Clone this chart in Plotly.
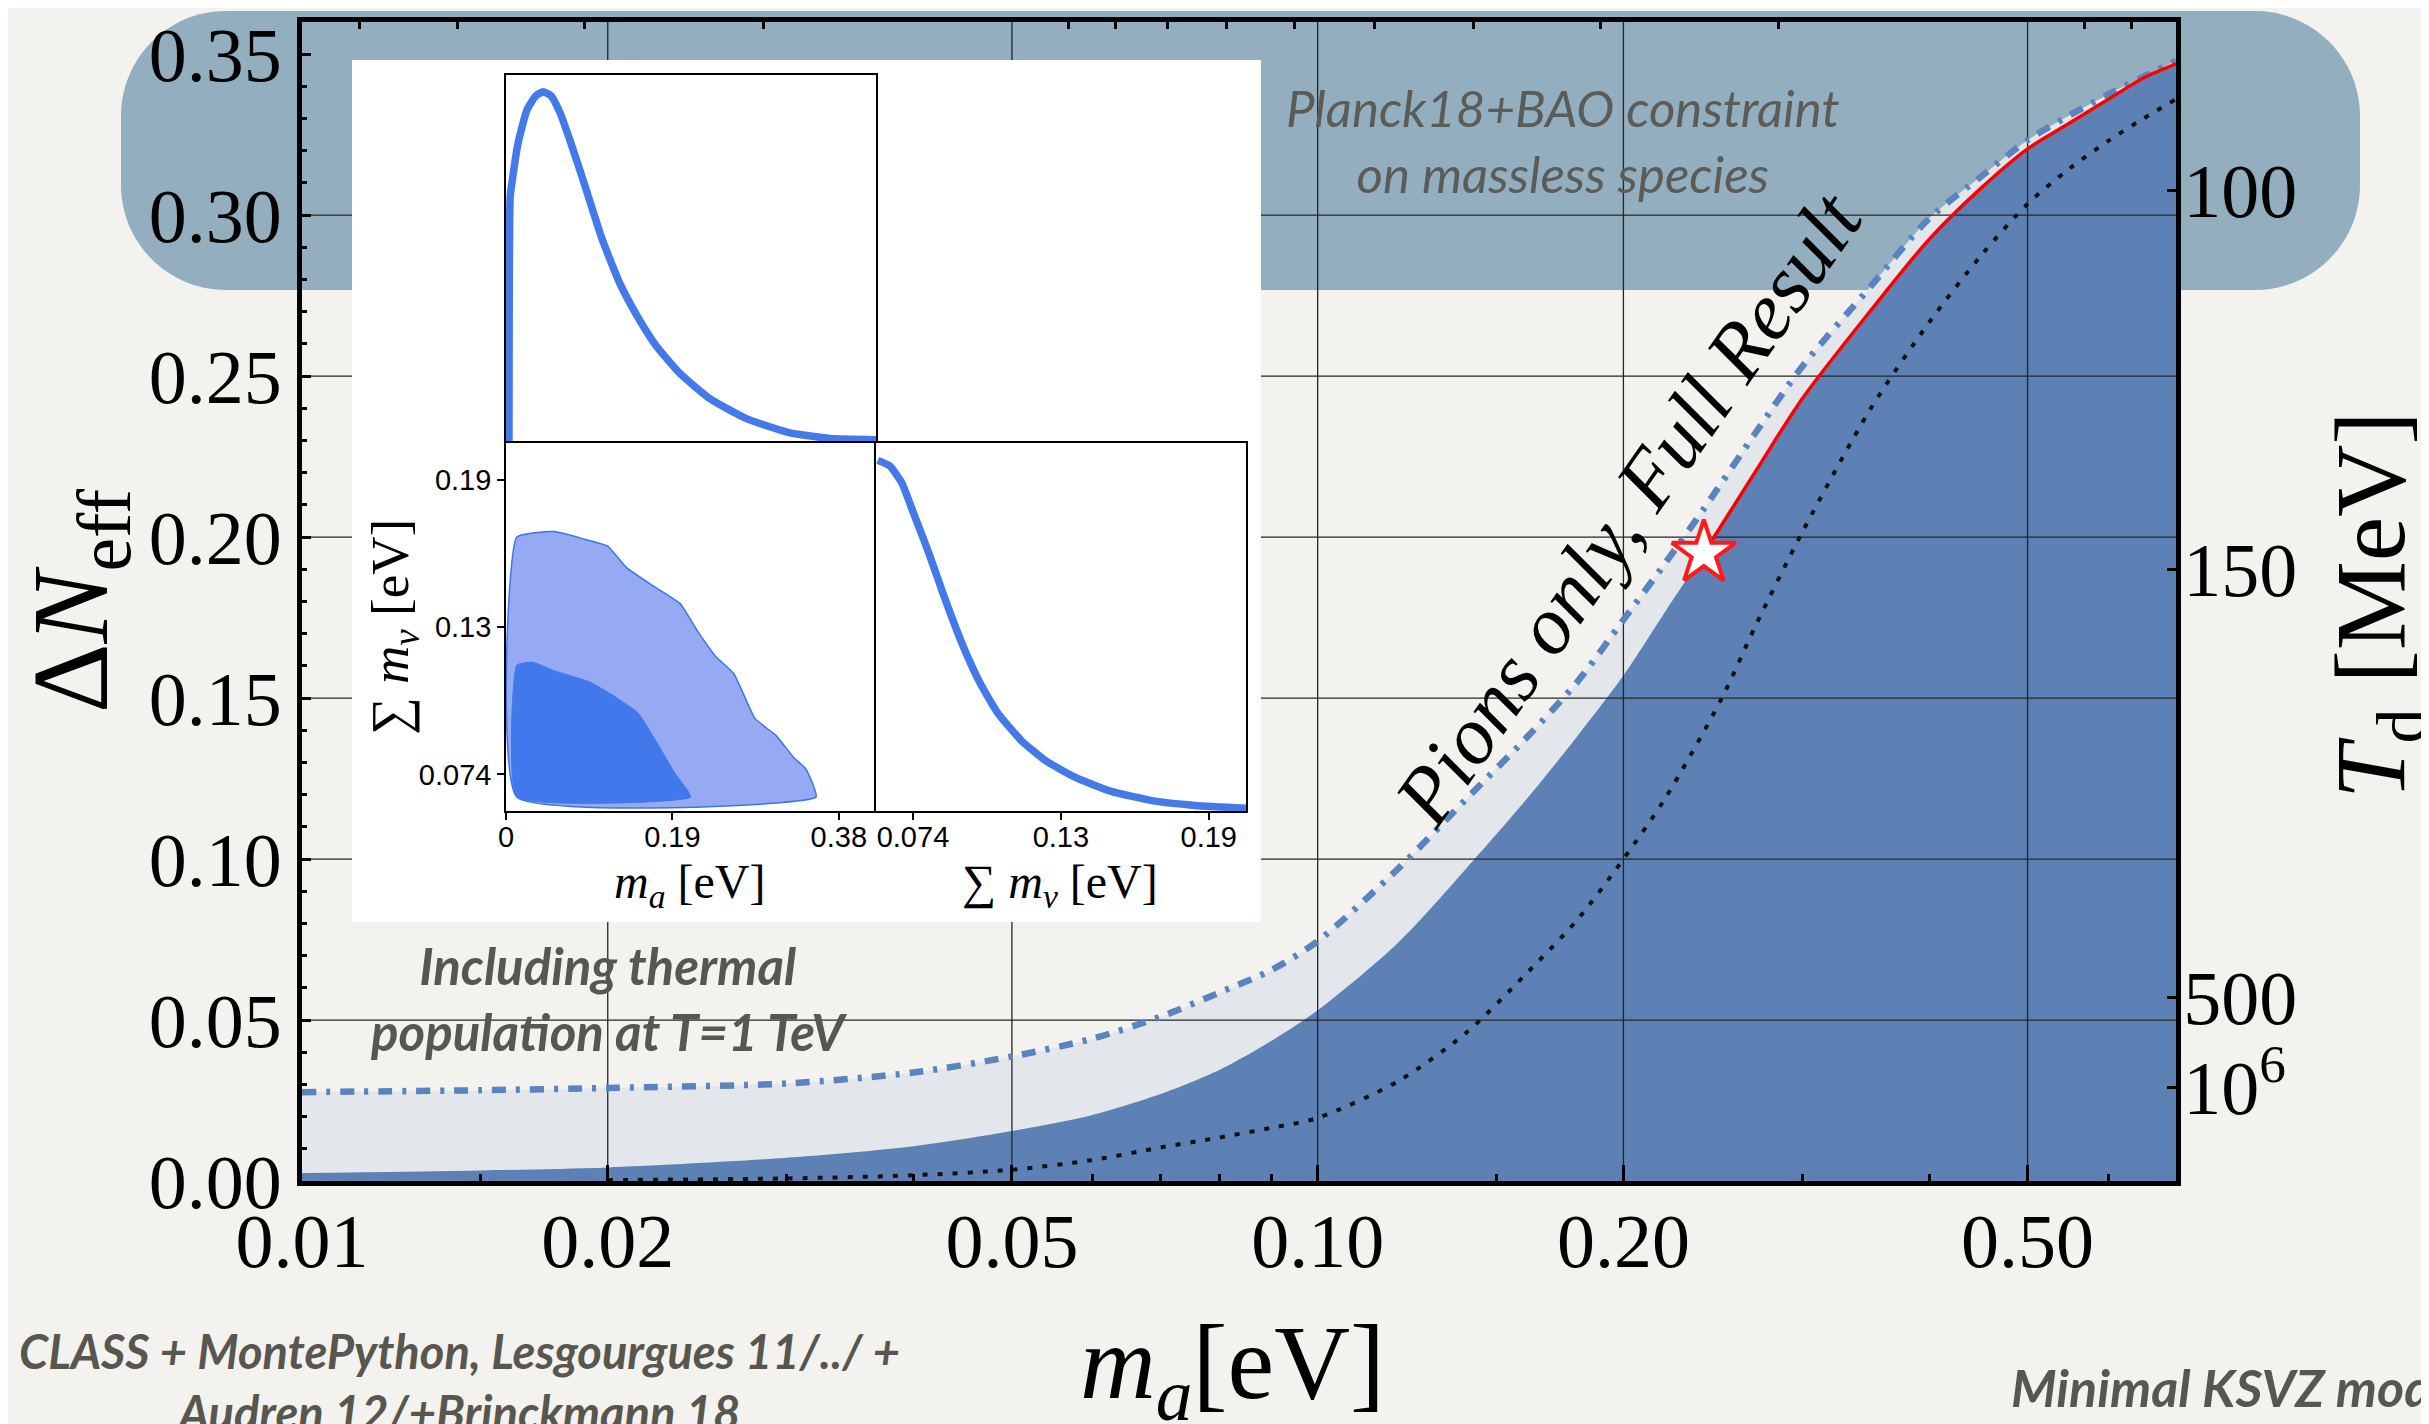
import numpy as np
import plotly.graph_objects as go

W, H = 2429, 1424

# ---------------- data ----------------
# dark region boundary  ("Pions only, Full Result")
full_x = [0.01, 0.015, 0.02, 0.03, 0.04, 0.05, 0.06, 0.07, 0.08, 0.09, 0.10, 0.12, 0.14,
          0.16, 0.18, 0.20, 0.22, 0.24, 0.27, 0.30, 0.35, 0.40, 0.45, 0.50, 0.55, 0.60, 0.65, 0.70]
full_y = [0.0025, 0.0033, 0.0042, 0.0072, 0.0108, 0.0155, 0.0205, 0.0270, 0.0345, 0.0435, 0.053, 0.074, 0.097,
          0.118, 0.138, 0.157, 0.177, 0.195, 0.2205, 0.243, 0.2702, 0.2925, 0.3084, 0.3206, 0.3286, 0.3359, 0.3426, 0.347]

# upper boundary including thermal population at T = 1 TeV (dot-dashed)
therm_x = full_x
therm_y = [0.0276, 0.0282, 0.0289, 0.0303, 0.0337, 0.0387, 0.0442, 0.0510, 0.0585, 0.0655, 0.0745, 0.097, 0.1186,
           0.1372, 0.1549, 0.1743, 0.192, 0.2088, 0.2325, 0.253, 0.2777, 0.299, 0.312, 0.3233, 0.331, 0.3375, 0.343, 0.348]

# dotted black curve
dot_x = [0.02, 0.03, 0.04, 0.05, 0.06, 0.07, 0.08, 0.09, 0.10, 0.12, 0.14, 0.16, 0.18, 0.20, 0.22,
         0.25, 0.27, 0.30, 0.35, 0.40, 0.45, 0.50, 0.55, 0.60, 0.65, 0.70]
dot_y = [0.0003, 0.0008, 0.0018, 0.0035, 0.0065, 0.0104, 0.0135, 0.0165, 0.0196, 0.031, 0.046, 0.064, 0.081, 0.10, 0.119,
         0.15, 0.1726, 0.2015, 0.2397, 0.2667, 0.2875, 0.3035, 0.3145, 0.3230, 0.3300, 0.3360]

# star marking the start of the red curve
star_x = [0.24]
star_y = [0.195]

# inset: 1D posterior of m_a
post_ma_x = [0.0034, 0.0048, 0.0068, 0.0137, 0.0240, 0.0342, 0.0425, 0.0514, 0.0616, 0.0753, 0.0890,
             0.1096, 0.1301, 0.1507, 0.1712, 0.1986, 0.2328, 0.2739, 0.3219, 0.3698, 0.4225]
post_ma_y = [0.0, 0.7027, 0.7427, 0.8547, 0.9508, 0.9908, 1.002, 0.9908, 0.9428, 0.8467, 0.7427,
             0.5826, 0.4546, 0.3585, 0.2785, 0.1985, 0.1265, 0.0704, 0.0304, 0.0128, 0.0096]

# inset: 1D posterior of sum m_nu
post_mnu_x = [0.0602, 0.0649, 0.0696, 0.0743, 0.0802, 0.0860, 0.0931, 0.1001, 0.1072, 0.1166, 0.1259,
              0.1377, 0.1518, 0.1682, 0.1846, 0.2046]
post_mnu_y = [1.0004, 0.9844, 0.9364, 0.8483, 0.7363, 0.6162, 0.4802, 0.3681, 0.2801, 0.2001, 0.1441,
              0.0960, 0.0560, 0.0288, 0.0160, 0.0080]

# inset: 2D contours (95% outer, 68% inner)
c95_x = [0.0123, 0.0123, 0.0548, 0.0959, 0.1164, 0.1370, 0.1644, 0.1986, 0.2191, 0.2397, 0.2602,
         0.2842, 0.3082, 0.3287, 0.3424, 0.3540, 0.0123]
c95_y = [0.0651, 0.1675, 0.1697, 0.1661, 0.1639, 0.1557, 0.1491, 0.1414, 0.1303, 0.1204, 0.1137,
         0.0961, 0.0894, 0.0806, 0.0762, 0.0651, 0.0651]
c68_x = [0.0123, 0.0123, 0.0308, 0.0548, 0.0959, 0.1233, 0.1507, 0.1712, 0.1917, 0.2109, 0.0123]
c68_y = [0.0651, 0.1171, 0.1182, 0.1149, 0.1104, 0.1049, 0.0983, 0.0872, 0.0751, 0.0651, 0.0651]

# ticks
x_major = [0.01, 0.02, 0.05, 0.1, 0.2, 0.5]
x_major_text = ["0.01", "0.02", "0.05", "0.10", "0.20", "0.50"]
x_minor = [0.015, 0.03, 0.04, 0.06, 0.07, 0.08, 0.09, 0.15, 0.3, 0.4, 0.6]
y_major = [0.0, 0.05, 0.10, 0.15, 0.20, 0.25, 0.30, 0.35]
y_major_text = ["0.00", "0.05", "0.10", "0.15", "0.20", "0.25", "0.30", "0.35"]
x_grid = [0.02, 0.05, 0.1, 0.2, 0.5]
y_grid = [0.05, 0.10, 0.15, 0.20, 0.25, 0.30]
td_pos = [0.3076, 0.190, 0.057, 0.029]
td_text = ["100", "150", "500", "10<sup>6</sup>"]
fa_ticks = [5, 4, 3, 2, 1, 0.9, 0.8, 0.7, 0.6, 0.5, 0.4, 0.3, 0.2, 0.1, 0.09]
ma_fa_const = 0.0569
ma_ticks = [0.0, 0.19, 0.38]
ma_text = ["0", "0.19", "0.38"]
mnu_ticks = [0.074, 0.132, 0.19]
mnu_text = ["0.074", "0.13", "0.19"]

X_RANGE = [0.01, 0.7]
Y_RANGE = [0.0, 0.36]

# ---------------- styling ----------------
PAPER = "#f3f2ee"
BAND = "#93aebe"
DARK = "#5d80b5"
LIGHT = "#e3e7ec"
DASHC = "#5a84bf"
INSET_BLUE = "#4479ea"
SERIF = "Liberation Serif, DejaVu Serif, serif"
SANS = "Liberation Sans, Arial, sans-serif"
GRAYTXT = "#57564f"


def fx(px):
    return px / W


def fy(py):
    return 1 - py / H


fig = go.Figure()

# ---- main panel ----
fig.add_trace(go.Scatter(x=therm_x, y=therm_y, mode="lines", fill="tozeroy", fillcolor=LIGHT,
                         line=dict(width=0, color=LIGHT, shape="spline", smoothing=0.8), hoverinfo="skip"))
fig.add_trace(go.Scatter(x=full_x, y=full_y, mode="lines", fill="tozeroy", fillcolor=DARK,
                         line=dict(width=0, color=DARK, shape="spline", smoothing=0.8), hoverinfo="skip"))

gx, gy = [], []
for v in x_grid:
    gx += [v, v, None]
    gy += [Y_RANGE[0], Y_RANGE[1], None]
for v in y_grid:
    gx += [X_RANGE[0], X_RANGE[1], None]
    gy += [v, v, None]
fig.add_trace(go.Scatter(x=gx, y=gy, mode="lines", line=dict(color="#262626", width=1.3), hoverinfo="skip"))

fig.add_trace(go.Scatter(x=therm_x, y=therm_y, mode="lines",
                         line=dict(color=DASHC, width=6.5, dash="14px,10px,4px,10px", shape="spline", smoothing=0.8),
                         hoverinfo="skip"))

fig.add_trace(go.Scatter(x=dot_x, y=dot_y, xaxis="x6", yaxis="y", mode="lines",
                         line=dict(color="#111111", width=4, dash="5px,10px", shape="spline", smoothing=0.8),
                         hoverinfo="skip"))

red_x = [x for x in full_x if x >= star_x[0]]
red_y = [y for x, y in zip(full_x, full_y) if x >= star_x[0]]
fig.add_trace(go.Scatter(x=red_x, y=red_y, xaxis="x", yaxis="y6", mode="lines",
                         line=dict(color="#ff0000", width=3.5, shape="spline", smoothing=0.8), hoverinfo="skip"))
fig.add_trace(go.Scatter(x=star_x, y=star_y, xaxis="x", yaxis="y6", mode="markers",
                         marker=dict(symbol="star", size=48, color="white", line=dict(color="#ff1a1a", width=4)),
                         hoverinfo="skip"))

# ---- inset background subplot (empty) ----
fig.add_trace(go.Scatter(x=[None], y=[None], xaxis="x2", yaxis="y2", mode="lines", hoverinfo="skip"))

# ---- inset panels ----
fig.add_trace(go.Scatter(x=post_ma_x, y=post_ma_y, xaxis="x3", yaxis="y3", mode="lines",
                         line=dict(color=INSET_BLUE, width=7.5, shape="spline", smoothing=0.5), hoverinfo="skip"))
fig.add_trace(go.Scatter(x=c95_x, y=c95_y, xaxis="x4", yaxis="y4", mode="lines", fill="toself",
                         fillcolor="#95aaf3", line=dict(color="#3f74e8", width=1.5, shape="spline", smoothing=0.4),
                         hoverinfo="skip"))
fig.add_trace(go.Scatter(x=c68_x, y=c68_y, xaxis="x4", yaxis="y4", mode="lines", fill="toself",
                         fillcolor="#4178ec", line=dict(color="#4178ec", width=1, shape="spline", smoothing=0.4),
                         hoverinfo="skip"))
fig.add_trace(go.Scatter(x=post_mnu_x, y=post_mnu_y, xaxis="x5", yaxis="y5", mode="lines",
                         line=dict(color=INSET_BLUE, width=7.5, shape="spline", smoothing=0.5), hoverinfo="skip"))

# ---- layout ----
main_xdom = [fx(294), fx(2168)]
main_ydom = [fy(1173), fy(14)]
xr = [np.log10(X_RANGE[0]), np.log10(X_RANGE[1])]
tickfont_main = dict(family=SERIF, size=76, color="black")
inset_font = dict(family=SANS, size=29, color="black")

top_vals = [ma_fa_const / u for u in fa_ticks]

inset_axis_common = dict(showline=True, linecolor="black", linewidth=1.6, mirror=True, showgrid=False,
                         zeroline=False, tickcolor="black", tickwidth=1.5, ticklen=7, tickfont=inset_font,
                         automargin=False)

layout = dict(
    width=W, height=H, margin=dict(l=0, r=0, t=0, b=0, pad=0, autoexpand=False),
    paper_bgcolor=PAPER, plot_bgcolor="white", showlegend=False,
    xaxis=dict(type="log", range=xr, domain=main_xdom, anchor="y", automargin=False,
               tickmode="array", tickvals=x_major, ticktext=x_major_text,
               ticks="inside", ticklen=16, tickwidth=3, tickcolor="black",
               minor=dict(tickmode="array", tickvals=x_minor, ticks="inside", ticklen=7, tickwidth=3,
                          tickcolor="black"),
               showline=True, linewidth=5, linecolor="black", showgrid=False, zeroline=False,
               tickfont=tickfont_main, ticklabelstandoff=-10),
    xaxis6=dict(type="log", range=xr, overlaying="x", side="top", anchor="y", automargin=False,
                tickmode="array", tickvals=top_vals, ticks="inside", ticklen=7, tickwidth=3, tickcolor="black",
                showticklabels=False, showline=True, linewidth=5, linecolor="black", showgrid=False,
                zeroline=False),
    yaxis=dict(range=Y_RANGE, domain=main_ydom, anchor="x", automargin=False,
               tickmode="array", tickvals=y_major, ticktext=y_major_text,
               ticks="inside", ticklen=9, tickwidth=3, tickcolor="black",
               minor=dict(dtick=0.01, tick0=0, ticks="inside", ticklen=5, tickwidth=2.5, tickcolor="black"),
               showline=True, linewidth=5, linecolor="black", showgrid=False, zeroline=False,
               tickfont=tickfont_main),
    yaxis6=dict(range=Y_RANGE, overlaying="y", side="right", anchor="x", automargin=False,
                tickmode="array", tickvals=td_pos, ticktext=td_text,
                ticks="inside", ticklen=9, tickwidth=3, tickcolor="black",
                showline=True, linewidth=5, linecolor="black", showgrid=False, zeroline=False,
                tickfont=tickfont_main, ticklabelstandoff=-13),
    # inset white background
    xaxis2=dict(domain=[fx(344), fx(1253)], anchor="y2", range=[0, 1], visible=False, automargin=False),
    yaxis2=dict(domain=[fy(914), fy(52)], anchor="x2", range=[0, 1], visible=False, automargin=False),
    # inset top-left (1D m_a)
    xaxis3=dict(domain=[fx(498), fx(868)], anchor="y3", range=[0, 0.4225], tickmode="array",
                tickvals=ma_ticks, showticklabels=False, ticks="outside", **inset_axis_common),
    yaxis3=dict(domain=[fy(435), fy(67)], anchor="x3", range=[0, 1.05], showticklabels=False, ticks="",
                **inset_axis_common),
    # inset bottom-left (2D)
    xaxis4=dict(domain=[fx(498), fx(868)], anchor="y4", range=[0, 0.4225], tickmode="array",
                tickvals=ma_ticks, ticktext=ma_text, ticks="outside", ticklabelstandoff=-8,
                **inset_axis_common),
    yaxis4=dict(domain=[fy(803), fy(435)], anchor="x4", range=[0.0596, 0.2046], tickmode="array",
                tickvals=mnu_ticks, ticktext=mnu_text, ticks="outside", **inset_axis_common),
    # inset bottom-right (1D sum m_nu)
    xaxis5=dict(domain=[fx(868), fx(1238)], anchor="y5", range=[0.0595, 0.2046], tickmode="array",
                tickvals=mnu_ticks, ticktext=mnu_text, ticks="outside", ticklabelstandoff=-8,
                **inset_axis_common),
    yaxis5=dict(domain=[fy(803), fy(435)], anchor="x5", range=[0, 1.05], showticklabels=False, ticks="",
                **inset_axis_common),
)
fig.update_layout(**layout)


# ---- background shapes ----
def rounded_rect_path(x0, y0, x1, y1, r):
    k = 0.5523 * r

    def P(x, y):
        return f"{fx(x):.6f},{fy(y):.6f}"

    return (f"M{P(x0 + r, y0)} L{P(x1 - r, y0)} "
            f"C{P(x1 - r + k, y0)} {P(x1, y0 + r - k)} {P(x1, y0 + r)} "
            f"L{P(x1, y1 - r)} C{P(x1, y1 - r + k)} {P(x1 - r + k, y1)} {P(x1 - r, y1)} "
            f"L{P(x0 + r, y1)} C{P(x0 + r - k, y1)} {P(x0, y1 - r + k)} {P(x0, y1 - r)} "
            f"L{P(x0, y0 + r)} C{P(x0, y0 + r - k)} {P(x0 + r - k, y0)} {P(x0 + r, y0)} Z")


fig.add_shape(type="rect", xref="paper", yref="paper", x0=0, x1=1, y0=0, y1=1,
              fillcolor=PAPER, line=dict(width=0), layer="below")
fig.add_shape(type="path", xref="paper", yref="paper", path=rounded_rect_path(113, 3, 2352, 282, 105),
              fillcolor=BAND, line=dict(width=0), layer="below")


# ---- text ----
def ann(text, px, py, size, family=SERIF, color="black", angle=0, xanchor="center", style="normal",
        weight="normal"):
    fig.add_annotation(text=text, x=fx(px), y=fy(py), xref="paper", yref="paper", showarrow=False,
                       xanchor=xanchor, yanchor="middle", textangle=angle,
                       font=dict(family=family, size=size, color=color, style=style, weight=weight))


ann("Δ<i>N</i><sub>eff</sub>", 70, 593, 108, angle=-90)
ann("<i>T</i><sub>d</sub> [MeV]", 2370, 597, 100, angle=-90)
ann("<i>m<sub>a</sub></i>[eV]", 1224, 1362, 105)

ann("<i>m<sub>a</sub></i> [eV]", 681, 877, 48)
ann("∑ <i>m<sub>ν</sub></i> [eV]", 1052, 877, 48)
ann("∑ <i>m<sub>ν</sub></i> [eV]", 386, 619, 53, angle=-90)

ann("Pions only, Full Result", 1620, 500, 82, angle=-55, style="italic")

ann("Planck18+BAO constraint<br>on massless species", 1555, 132, 51, family="Lato", color="#5b5b58",
    style="italic")
ann("Including thermal<br>population at T=1 TeV", 600, 990, 51, family="Lato", color=GRAYTXT,
    style="italic", weight="bold")
ann("CLASS + MontePython, Lesgourgues 11/../ +<br>Audren 12/+Brinckmann 18", 451, 1373, 47, family="Lato",
    color=GRAYTXT, style="italic", weight="bold")
ann("Minimal KSVZ model", 2001, 1379, 52, family="Lato", color=GRAYTXT, style="italic", weight="bold",
    xanchor="left")

fig.write_html("out.html")
